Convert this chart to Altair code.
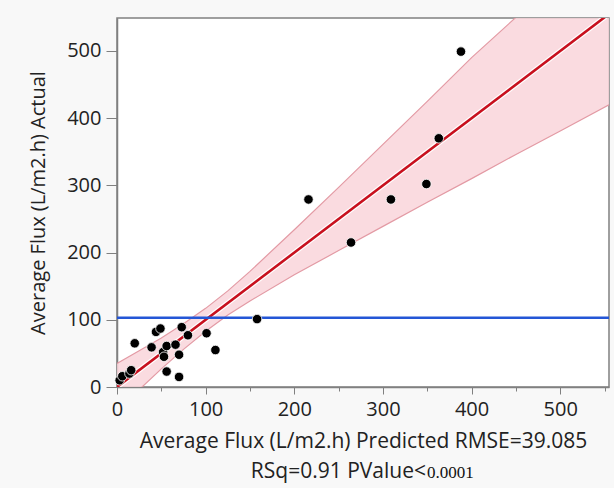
import altair as alt
import pandas as pd

# Observed points: predicted (x) vs actual (y)
pred = [3, 6, 14, 16, 20, 39, 44, 49, 52, 53, 56, 56, 66, 70, 70, 73, 80,
        101, 111, 158, 216, 264, 309, 349, 363, 388]
actual = [10, 16, 20, 25, 65, 59, 82, 87, 52, 45, 61, 23, 63, 48, 15, 89, 77,
          80, 55, 101, 279, 215, 279, 302, 370, 499]

# Fit line and confidence band
fit_x = [0, 555]
fit_y = [0, 555]
band_x = [0, 25, 50, 75, 100, 125, 150, 200, 250, 300, 350, 400, 450, 500, 555]
band_lo = [-35, -4, 27, 56, 83, 107, 128, 167, 203, 239, 275, 310, 346, 381, 420]
band_hi = [35, 54, 73, 94, 117, 143, 172, 234, 297, 361, 425, 490, 550, 612, 680]
mean_actual = [103]

x_ticks = [0, 50, 100, 150, 200, 250, 300, 350, 400, 450, 500, 550]
y_ticks = [0, 50, 100, 150, 200, 250, 300, 350, 400, 450, 500]

pts = pd.DataFrame({"pred": pred, "actual": actual})
fit = pd.DataFrame({"x": fit_x, "y": fit_y})
band = pd.DataFrame({"x": band_x, "lo": band_lo, "hi": band_hi})
mean_df = pd.DataFrame({"m": mean_actual})

FONT = "Open Sans"
xs = alt.Scale(domain=[0, 555], nice=False, zero=False)
ys = alt.Scale(domain=[0, 549], nice=False, zero=False)

x_tick = {"condition": {"test": "datum.value % 100 === 0", "value": 7}, "value": 4}
y_tick = {"condition": {"test": "datum.value % 100 === 0", "value": 11}, "value": 6}

x_axis = alt.Axis(
    values=x_ticks,
    labelExpr="datum.value % 100 === 0 ? datum.label : ''",
    grid=False, tickSize=x_tick, tickColor="#808080", domainColor="#808080",
    domainWidth=1.5, labelFont=FONT, labelFontSize=20, labelColor="#222222",
    labelPadding=5, labelFlush=False, labelOverlap=False,
    title="Average Flux (L/m2.h) Predicted RMSE=39.085",
    titleFont=FONT, titleFontSize=21, titleFontWeight="normal", titleColor="#222222",
    titlePadding=11,
)
y_axis = alt.Axis(
    values=y_ticks,
    labelExpr="datum.value % 100 === 0 ? datum.label : ''",
    grid=False, tickSize=y_tick, tickColor="#808080", domainColor="#808080",
    domainWidth=1.5, labelFont=FONT, labelFontSize=20, labelColor="#222222",
    labelPadding=5, labelFlush=False, labelOverlap=False,
    title="Average Flux (L/m2.h) Actual",
    titleFont=FONT, titleFontSize=20, titleFontWeight="normal", titleColor="#222222",
    titlePadding=18,
)

area = alt.Chart(band).mark_area(color="#f9d5da", opacity=0.85, clip=True).encode(
    x=alt.X("x:Q", scale=xs, axis=x_axis),
    y=alt.Y("lo:Q", scale=ys, axis=y_axis),
    y2="hi:Q",
)
lo_line = alt.Chart(band).mark_line(color="#e39aa4", strokeWidth=1.2, clip=True).encode(
    x=alt.X("x:Q", scale=xs), y=alt.Y("lo:Q", scale=ys)
)
hi_line = alt.Chart(band).mark_line(color="#e39aa4", strokeWidth=1.2, clip=True).encode(
    x=alt.X("x:Q", scale=xs), y=alt.Y("hi:Q", scale=ys)
)
fit_halo = alt.Chart(fit).mark_line(color="white", strokeWidth=5, clip=True).encode(
    x=alt.X("x:Q", scale=xs), y=alt.Y("y:Q", scale=ys)
)
fit_line = alt.Chart(fit).mark_line(color="#c8101e", strokeWidth=2.6, clip=True).encode(
    x=alt.X("x:Q", scale=xs), y=alt.Y("y:Q", scale=ys)
)
mean_line = alt.Chart(mean_df).mark_rule(color="#2456d6", strokeWidth=2.6).encode(
    y=alt.Y("m:Q", scale=ys)
)
points = alt.Chart(pts).mark_circle(size=90, color="black", opacity=1,
                                    stroke="white", strokeWidth=0.8).encode(
    x=alt.X("pred:Q", scale=xs), y=alt.Y("actual:Q", scale=ys)
)

line2a = alt.Chart(mean_df).mark_text(
    text="RSq=0.91 PValue<", font=FONT, fontSize=21, color="#222222",
    align="right", baseline="middle"
).encode(x=alt.value(309), y=alt.value(454))
line2b = alt.Chart(mean_df).mark_text(
    text="0.0001", font="Liberation Serif", fontSize=17, color="#111111",
    align="left", baseline="middle"
).encode(x=alt.value(310), y=alt.value(455))

chart = alt.layer(
    area, lo_line, hi_line, fit_halo, fit_line, mean_line, points, line2a, line2b
).properties(
    width=492, height=369,
    padding={"left": 117, "top": 18, "right": 5, "bottom": 101},
    autosize=alt.AutoSizeParams(type="none"),
    background="#f8f8f8",
).configure_view(
    fill="white", stroke="#808080", strokeWidth=1.5
)

chart.save("out.html", embed_options={"renderer": "svg", "actions": False})
